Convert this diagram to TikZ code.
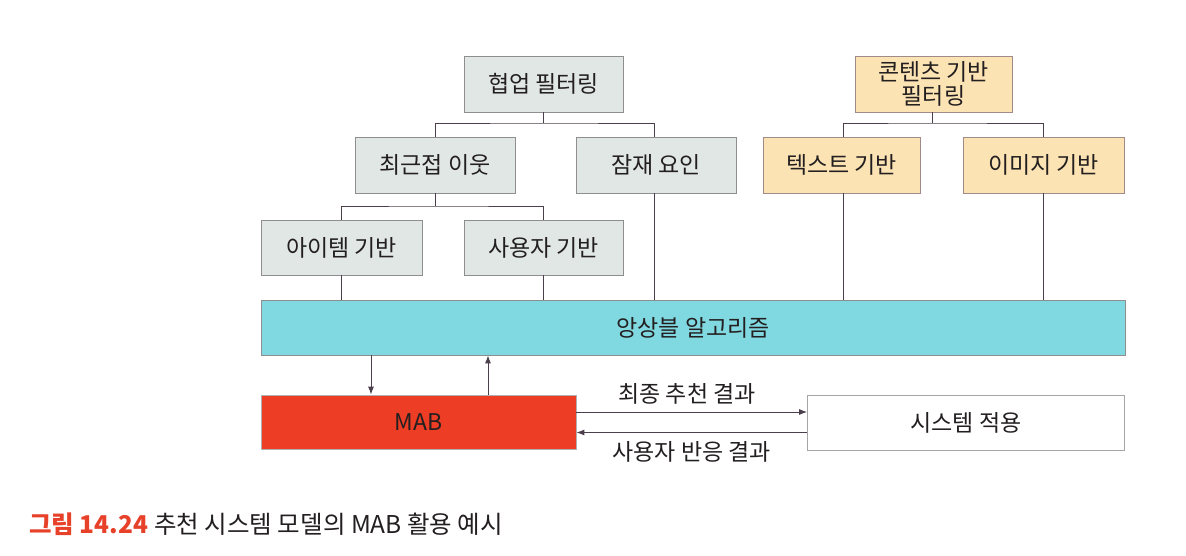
\documentclass[tikz,border=0pt]{standalone}
\usepackage{fontspec}
\setmainfont{Noto Sans CJK KR}
\usetikzlibrary{arrows.meta,calc}
\definecolor{linec}{HTML}{4A3F4A}
\definecolor{grayfill}{HTML}{E1E7E5}
\definecolor{grayedge}{HTML}{8E8E8E}
\definecolor{yelfill}{HTML}{FBE3B4}
\definecolor{yeledge}{HTML}{A08A8A}
\definecolor{cyanfill}{HTML}{80D8E0}
\definecolor{redfill}{HTML}{EE3D25}
\definecolor{txt}{HTML}{231F20}
\definecolor{capred}{HTML}{E8412A}
\tikzset{
  base/.style={rectangle, inner sep=0pt, line width=0.8pt, text=txt, font=\fontsize{23}{26}\selectfont, align=center},
  graybox/.style={base, draw=grayedge, fill=grayfill},
  yelbox/.style={base, draw=yeledge, fill=yelfill},
  cyanbox/.style={base, draw=grayedge, fill=cyanfill},
  redbox/.style={base, draw=grayedge!70, fill=redfill},
  whitebox/.style={base, draw=grayedge!80, fill=white},
  conn/.style={draw=linec, line width=0.9pt},
  arr/.style={conn, -{Latex[length=8pt,width=6pt]}},
  lbl/.style={text=txt, font=\fontsize{23}{26}\selectfont, inner sep=0pt}
}
\begin{document}
\begin{tikzpicture}[x=1pt,y=-1pt]
\useasboundingbox[fill=white] (0,0) rectangle (1186,556);
% top row
\node[graybox, minimum width=159pt, minimum height=56pt] (cf) at (543.5,84) {협업 필터링};
\node[yelbox, minimum width=157pt, minimum height=56pt, font=\fontsize{23}{24}\selectfont] (cb) at (933.5,84) {콘텐츠 기반\\필터링};
% second row
\node[graybox, minimum width=160pt, minimum height=56pt] (nn) at (435,165) {최근접 이웃};
\node[graybox, minimum width=160pt, minimum height=56pt] (lf) at (656,165) {잠재 요인};
\node[yelbox, minimum width=157pt, minimum height=56pt] (tb) at (841.5,165) {텍스트 기반};
\node[yelbox, minimum width=161pt, minimum height=56pt] (ib) at (1043.5,165) {이미지 기반};
% third row
\node[graybox, minimum width=161pt, minimum height=55pt] (it) at (341.5,247.5) {아이템 기반};
\node[graybox, minimum width=159pt, minimum height=55pt] (us) at (543.5,247.5) {사용자 기반};
% ensemble
\node[cyanbox, minimum width=864pt, minimum height=55pt] (ens) at (693,327.5) {앙상블 알고리즘};
% bottom
\node[redbox, minimum width=315pt, minimum height=54pt] (mab) at (418.5,422) {MAB};
\node[whitebox, minimum width=317pt, minimum height=55pt] (sys) at (966,422.5) {시스템 적용};
% tree connectors
\coordinate (cfbar) at (543.5,123);
\draw[conn] (cf.south) -- (cfbar);
\draw[conn] (nn.north) |- (cfbar) -| ([xshift=-2pt]lf.north);
\coordinate (cbbar) at (932,123);
\draw[conn] ([xshift=-1.5pt]cb.south) -- (cbbar);
\draw[conn] ([xshift=1.5pt]tb.north) |- (cbbar) -| ([xshift=-0.5pt]ib.north);
\coordinate (nnbar) at (435,206);
\draw[conn] (nn.south) -- (nnbar);
\draw[conn] ([xshift=-0.5pt]it.north) |- (nnbar) -| (us.north);
% verticals to ensemble
\draw[conn] ([xshift=-0.5pt]it.south) -- ([xshift=-0.5pt]it.south |- ens.north);
\draw[conn] (us.south) -- (us.south |- ens.north);
\draw[conn] ([xshift=-2pt]lf.south) -- ([xshift=-2pt]lf.south |- ens.north);
\draw[conn] ([xshift=1.5pt]tb.south) -- ([xshift=1.5pt]tb.south |- ens.north);
\draw[conn] ([xshift=-0.5pt]ib.south) -- ([xshift=-0.5pt]ib.south |- ens.north);
% ensemble <-> MAB
\coordinate (d1) at (371,355);
\coordinate (u1) at (488,395);
\draw[arr] (d1) -- (d1 |- mab.north);
\draw[arr] (u1) -- (u1 |- ens.south);
% MAB <-> system
\draw[arr] ([yshift=10pt]mab.east) -- ([yshift=10pt]mab.east -| sys.west) node[lbl, pos=0.48, above=7pt] {최종 추천 결과};
\draw[arr] ([yshift=-10pt]sys.west) -- ([yshift=-10pt]sys.west -| mab.east) node[lbl, pos=0.5, below=9pt] {사용자 반응 결과};
% caption
\node[anchor=west, inner sep=0pt, font=\fontsize{24.5}{28}\selectfont] (cap) at (29,524) {\textcolor{capred}{\bfseries 그림 14.24}\hspace{0.25em}\textcolor{txt}{추천 시스템 모델의 MAB 활용 예시}};
\end{tikzpicture}
\end{document}
